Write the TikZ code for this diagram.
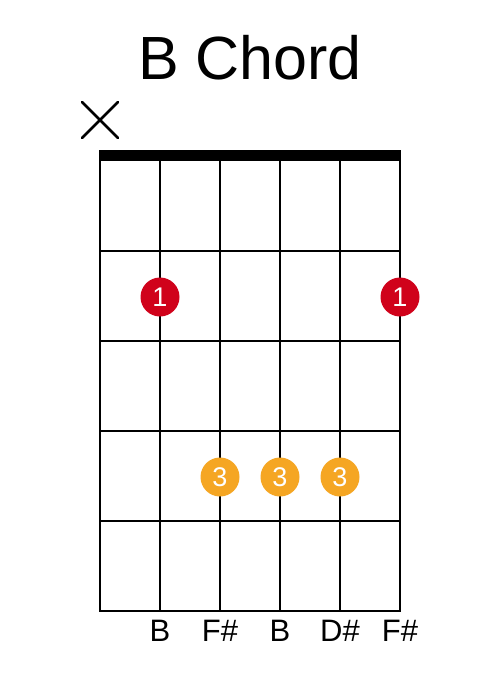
\documentclass[tikz,border=0pt]{standalone}
\usepackage{fontspec}
\setmainfont{Liberation Sans}
\definecolor{dotred}{HTML}{D0021B}
\definecolor{dotorange}{HTML}{F5A623}
\begin{document}
\begin{tikzpicture}[x=1pt,y=-1pt,
  gridline/.style={line width=2pt,black},
  fingerdot/.style={circle,minimum size=39pt,inner sep=0pt,text=white,font=\fontsize{27}{27}\selectfont},
  notelabel/.style={font=\fontsize{31}{31}\selectfont,anchor=center,inner sep=0pt}]
\useasboundingbox[fill=white] (0,0) rectangle (500,696);
% title
\node[font=\fontsize{61}{61}\selectfont,inner sep=0pt] (title) at (250,58) {B Chord};
% muted mark
\coordinate (xa) at (82,102);
\coordinate (xb) at (118,138);
\coordinate (xc) at (118,102);
\coordinate (xd) at (82,138);
\draw[line width=2.5pt,line cap=round] (xa) -- (xb) (xc) -- (xd);
% nut
\fill (99,150) rectangle (401,161);
% strings
\foreach \x in {100,160,220,280,340,400}
  \draw[gridline] (\x,160) -- (\x,612);
% frets
\foreach \y in {251,341,431,521,611}
  \draw[gridline] (99,\y) -- (401,\y);
% finger dots
\node[fingerdot,fill=dotred] (d1) at (160,297) {1};
\node[fingerdot,fill=dotred] (d2) at (400,297) {1};
\node[fingerdot,fill=dotorange] (d3) at (220,477) {3};
\node[fingerdot,fill=dotorange] (d4) at (280,477) {3};
\node[fingerdot,fill=dotorange] (d5) at (340,477) {3};
% note labels
\node[notelabel] (n2) at (160,631) {B};
\node[notelabel] (n3) at (220,631) {F\#};
\node[notelabel] (n4) at (280,631) {B};
\node[notelabel] (n5) at (340,631) {D\#};
\node[notelabel] (n6) at (400,631) {F\#};
\end{tikzpicture}
\end{document}
